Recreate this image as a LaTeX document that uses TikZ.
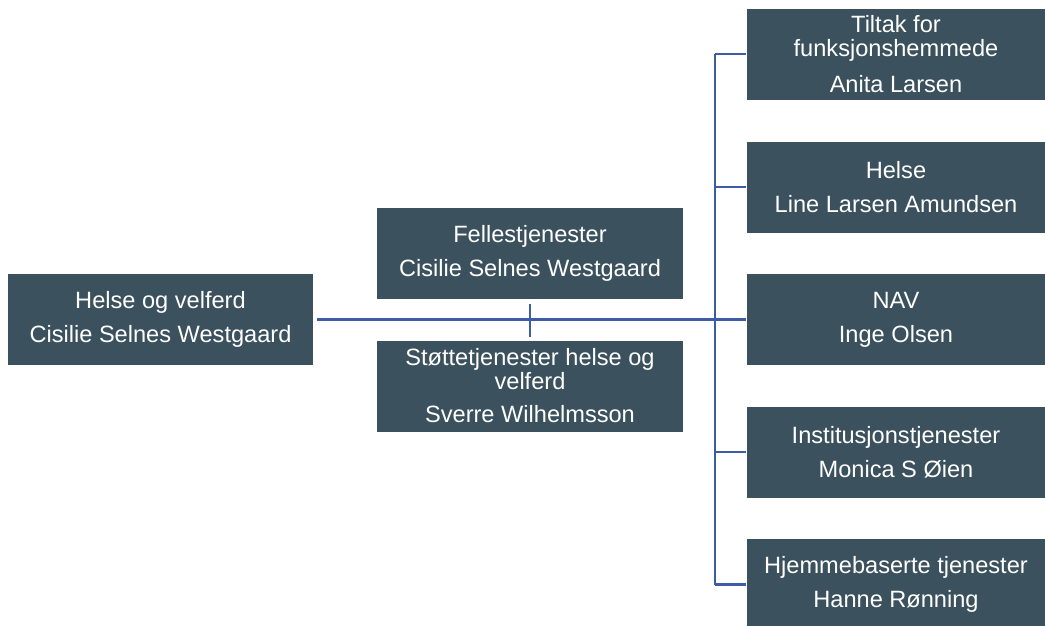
\documentclass[tikz,border=0pt]{standalone}
\usepackage{fontspec}
\setmainfont{Liberation Sans}
\usepackage{tikz}
\usetikzlibrary{positioning,calc}
\definecolor{boxfill}{RGB}{59,81,93}
\definecolor{linkblue}{RGB}{62,92,164}

\begin{document}
\begin{tikzpicture}[x=1pt, y=-1pt, line width=2.7pt]
\tikzstyle{unit}=[fill=boxfill,text=white,align=center,inner sep=0pt,minimum width=298pt,minimum height=91pt,font=\fontsize{23.6}{24}\selectfont]
\tikzstyle{link}=[draw=linkblue]
\useasboundingbox (0,0) rectangle (1045,625);
% left and middle
\node[unit,minimum width=305pt]  (top)    at (160.5,319.5) {Helse og velferd\\[10pt]Cisilie Selnes Westgaard};
\node[unit,minimum width=306pt]  (fell)   at (530,253)     {Fellestjenester\\[10pt]Cisilie Selnes Westgaard};
\node[unit,minimum width=306pt]  (stotte) at (530,386)     {Støttetjenester helse og\\velferd\\[9pt]Sverre Wilhelmsson};
% right column
\node[unit]  (tiltak)  at (896,54)    {\fontsize{23.6}{23}\selectfont Tiltak for\\funksjonshemmede\\[12pt]Anita Larsen};
\node[unit]  (helse)   at (896,187)   {Helse\\[10pt]Line Larsen Amundsen};
\node[unit]  (nav)     at (896,319.5) {NAV\\[10pt]Inge Olsen};
\node[unit]  (inst)    at (896,452)   {Institusjonstjenester\\[10pt]Monica S Øien};
\node[unit]  (hjem)    at (896,584.5) {Hjemmebaserte tjenester\\[10pt]Hanne Rønning};
\coordinate (trunk) at (715,0);
\path[link]
(top.east) ++(3,0) edge (nav.west)
(fell.south) ++(0,4) edge[line width=2.3pt] ($(stotte.north)+(0,-2)$)
(trunk |- tiltak) edge (trunk |- hjem);
\foreach \b in {tiltak,helse,nav,inst,hjem}
  \draw[link] (trunk |- \b) -- (\b.west);
\end{tikzpicture}
\end{document}
